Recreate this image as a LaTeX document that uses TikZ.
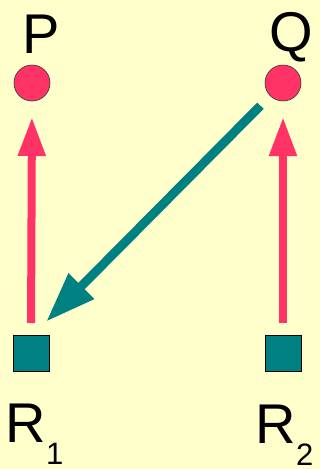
\documentclass[tikz,border=0pt]{standalone}
\usepackage{fontspec}
\setmainfont{Liberation Sans}
\usetikzlibrary{arrows.meta}
\definecolor{bgyellow}{HTML}{FFFFCC}
\definecolor{pinkred}{HTML}{FF3366}
\definecolor{tealgreen}{HTML}{008080}

\begin{document}
\begin{tikzpicture}[x=1pt, y=-1pt,
  dot/.style={circle, fill=pinkred, draw=black!80, line width=0.6pt, minimum size=36pt, inner sep=0pt, outer sep=0pt},
  box/.style={rectangle, fill=tealgreen, draw=black, line width=0.6pt, minimum size=36pt, inner sep=0pt, outer sep=0pt},
  lbl/.style={inner sep=0pt, font=\fontsize{56}{56}\selectfont},
  uparrow/.style={draw=pinkred, line width=8pt, -{Triangle[length=39pt, width=26pt]}},
  diagarrow/.style={draw=tealgreen, line width=9pt, -{Triangle[length=50pt, width=34pt]}}]
  % background
  \fill[bgyellow] (0,0) rectangle (320,469);
  % top points P and Q
  \node[dot] (p) at (32,83) {}; \node[dot] (q) at (283,83) {};
  \node[lbl, anchor=base] (plbl) at (41,53) {P};
  \node[lbl, anchor=base] (qlbl) at (291,51) {Q};
  % bottom boxes R1 and R2
  \node[box] (r1) at (31,353) {}; \node[box] (r2) at (283,353) {};
  \node[lbl, anchor=base west] (r1lbl) at (5.5,442) {R\raisebox{-22pt}{\fontsize{31}{31}\selectfont 1}};
  \node[lbl, anchor=base west] (r2lbl) at (255.5,443) {R\raisebox{-22pt}{\fontsize{31}{31}\selectfont 2}};
  % arrows
  \draw[uparrow, shorten <=12pt, shorten >=16pt] (r1.north) -- (p.south);
  \draw[uparrow, shorten <=12pt, shorten >=16pt] (r2.north) -- (q.south);
  \draw[diagarrow, shorten <=32pt, shorten >=33pt] (q.center) -- ([shift={(-8,-8)}]r1.center);
\end{tikzpicture}
\end{document}
